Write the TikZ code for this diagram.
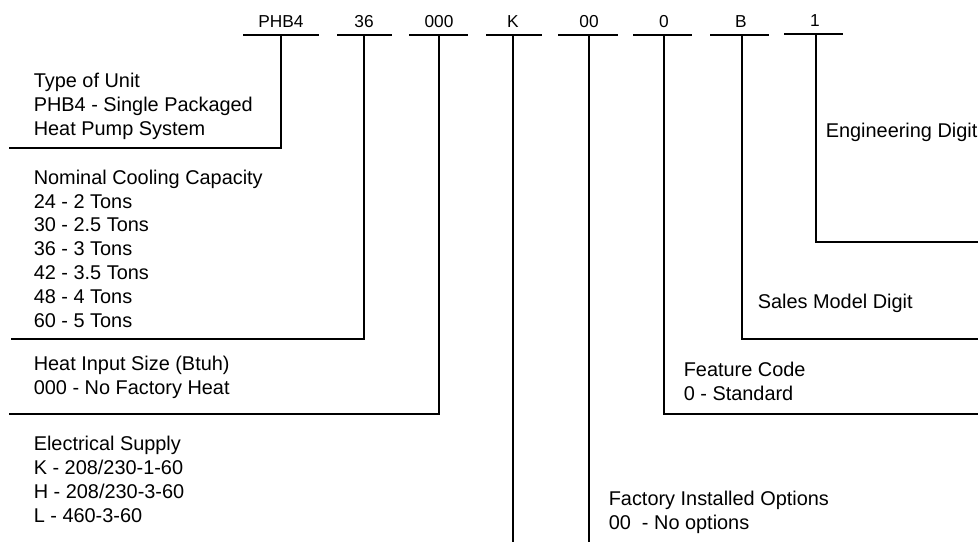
\documentclass[tikz,border=0pt]{standalone}
\usepackage{fontspec}
\setmainfont{Liberation Sans}
\begin{document}
\begin{tikzpicture}[x=1pt,y=-1pt,line width=1.6pt,
  code/.style={font=\fontsize{17.3}{20}\selectfont,anchor=base,inner sep=0pt},
  desc/.style={font=\fontsize{19.9}{23.8}\selectfont,anchor=base west,align=left,inner sep=0pt},
  bar/.style={line width=1.6pt},
  conn/.style={line width=1.6pt}]
\useasboundingbox (0,0) rectangle (978,542);
% code labels
\node[code] (cA) at (281,27) {PHB4};
\node[code] (cB) at (364,27) {36};
\node[code] (cC) at (439,27) {000};
\node[code] (cD) at (513,27) {K};
\node[code] (cE) at (589,27) {00};
\node[code] (cF) at (664,27) {0};
\node[code] (cG) at (741,27) {B};
\node[code] (cH) at (815,26) {1};
% bar centres
\coordinate (tA) at (281,35);
\coordinate (tB) at (364,35);
\coordinate (tC) at (439,35);
\coordinate (tD) at (513,35);
\coordinate (tE) at (589,35);
\coordinate (tF) at (664,35);
\coordinate (tG) at (742,35);
\coordinate (tH) at (816,34);
\draw[bar] (243,35) -- (319,35);
\draw[bar] (337,35) -- (392,35);
\draw[bar] (409,35) -- (468,35);
\draw[bar] (486,35) -- (542,35);
\draw[bar] (558,35) -- (618,35);
\draw[bar] (633,35) -- (692,35);
\draw[bar] (710,35) -- (769,35);
\draw[bar] (784,34) -- (843,34);
% descriptions (anchored at the baseline of the last line)
\node[desc] (dA) at (33,135) {Type of Unit\\PHB4 - Single Packaged\\Heat Pump System};
\node[desc] (dB) at (33,327) {Nominal Cooling Capacity\\24 - 2 Tons\\30 - 2.5 Tons\\36 - 3 Tons\\42 - 3.5 Tons\\48 - 4 Tons\\60 - 5 Tons};
\node[desc] (dC) at (33,394) {Heat Input Size (Btuh)\\000 - No Factory Heat};
\node[desc] (dD) at (33,522) {Electrical Supply\\K - 208/230-1-60\\H - 208/230-3-60\\L - 460-3-60};
\node[desc] (dE) at (608,529) {Factory Installed Options\\00\ \ - No options};
\node[desc] (dF) at (683,400) {Feature Code\\0 - Standard};
\node[desc] (dG) at (757,308) {Sales Model Digit};
\node[desc] (dH) at (825,137) {Engineering Digit};
% connector ends
\coordinate (eA) at (9,148);
\coordinate (eB) at (11,339);
\coordinate (eC) at (9,414);
\coordinate (eD) at (513,542);
\coordinate (eE) at (589,542);
\coordinate (eF) at (978,414);
\coordinate (eG) at (978,339);
\coordinate (eH) at (978,242);
\draw[conn] (tA) |- (eA);
\draw[conn] (tB) |- (eB);
\draw[conn] (tC) |- (eC);
\draw[conn] (tD) -- (eD);
\draw[conn] (tE) -- (eE);
\draw[conn] (tF) |- (eF);
\draw[conn] (tG) |- (eG);
\draw[conn] (tH) |- (eH);
\end{tikzpicture}
\end{document}
